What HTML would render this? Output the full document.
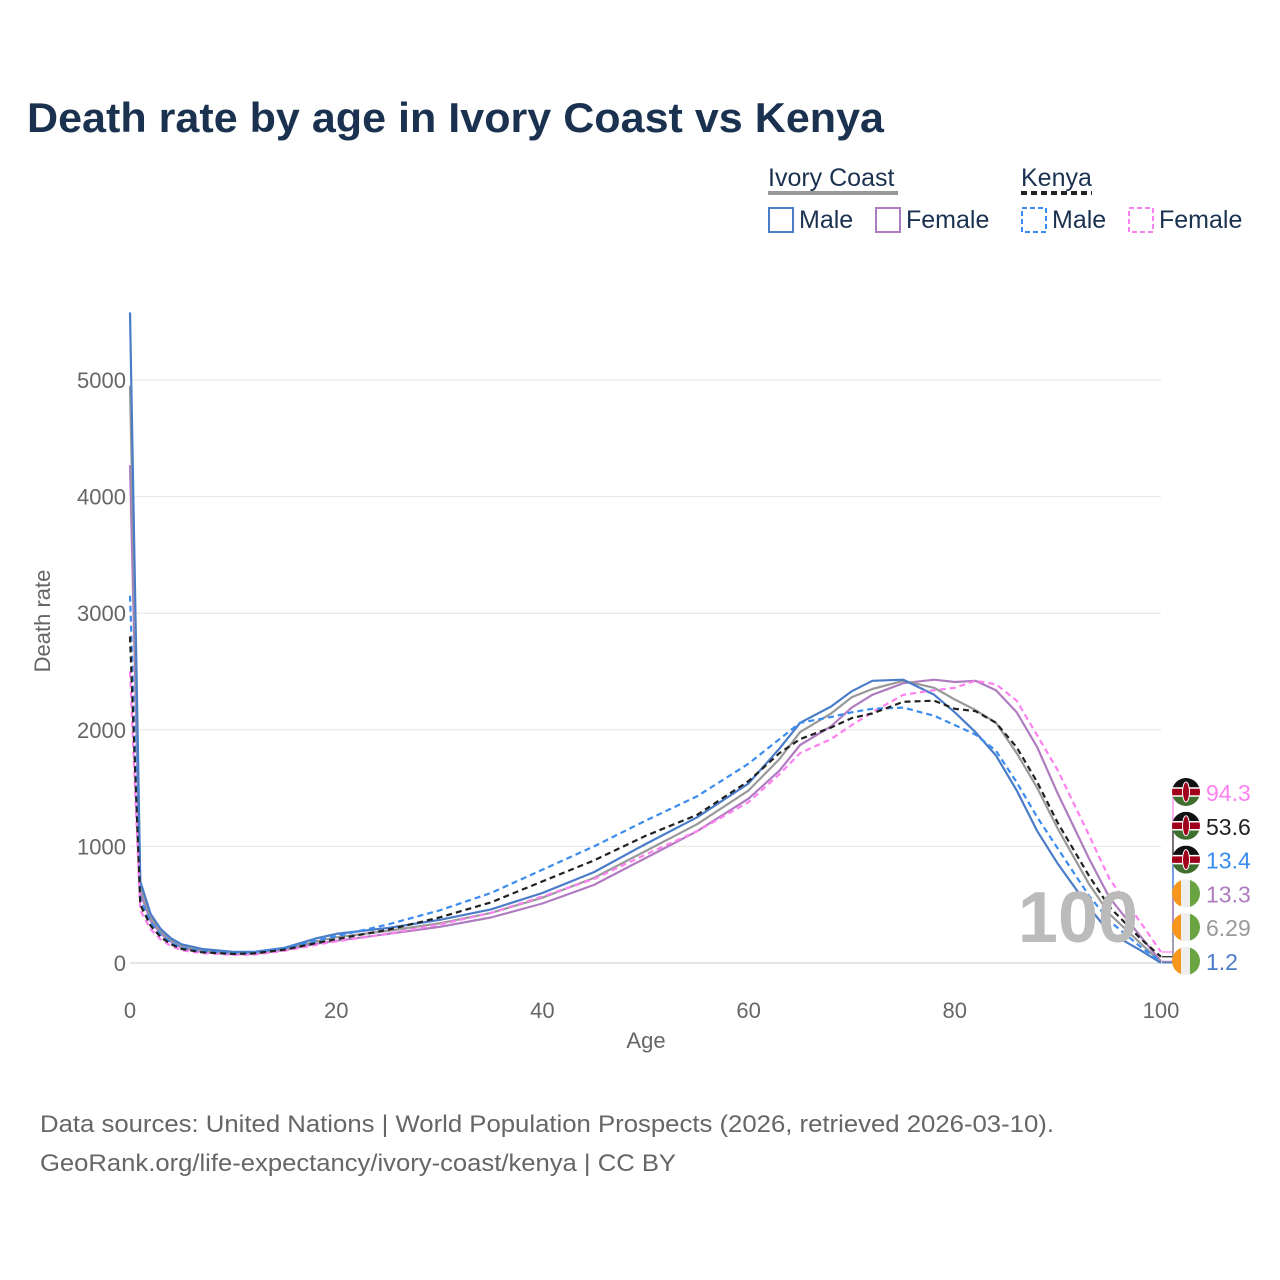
<!DOCTYPE html>
<html><head><meta charset="utf-8">
<style>
body{margin:0;background:#fff;font-family:"Liberation Sans",sans-serif;}
#wrap{position:relative;width:1280px;height:1280px;overflow:hidden;}
</style></head>
<body><div id="wrap">
<svg id="chart" width="1280" height="1280" font-family="Liberation Sans, sans-serif">
<text x="27" y="132" font-size="42" font-weight="bold" fill="#1b3150" textLength="857" lengthAdjust="spacingAndGlyphs">Death rate by age in Ivory Coast vs Kenya</text>
<g font-size="25" fill="#1b3150">
<text x="768" y="186">Ivory Coast</text>
<line x1="768" y1="193" x2="898" y2="193" stroke="#999" stroke-width="4"/>
<text x="1021" y="186">Kenya</text>
<line x1="1021" y1="193" x2="1092" y2="193" stroke="#222" stroke-width="4" stroke-dasharray="6,4"/>
<g><rect x="769" y="208" width="24" height="24" fill="none" stroke="#4a7cc8" stroke-width="2"/><text x="799" y="228">Male</text></g>
<g><rect x="876" y="208" width="24" height="24" fill="none" stroke="#b07cc0" stroke-width="2"/><text x="906" y="228">Female</text></g>
<g><rect x="1022" y="208" width="24" height="24" fill="none" stroke="#3b8cf0" stroke-width="2" stroke-dasharray="5,3"/><text x="1052" y="228">Male</text></g>
<g><rect x="1129" y="208" width="24" height="24" fill="none" stroke="#ff80f0" stroke-width="2" stroke-dasharray="5,3"/><text x="1159" y="228">Female</text></g>
</g>
<g id="grid"></g><g id="series"></g><g id="labels"></g>
<text x="1078" y="942" font-size="72" font-weight="bold" fill="#bbb" text-anchor="middle">100</text>
<text x="646" y="1048" font-size="22" fill="#666" text-anchor="middle">Age</text>
<text transform="translate(50,621) rotate(-90)" font-size="22" fill="#666" text-anchor="middle">Death rate</text>
<text x="40" y="1132" font-size="24" fill="#666" textLength="1014" lengthAdjust="spacingAndGlyphs">Data sources: United Nations | World Population Prospects (2026, retrieved 2026-03-10).</text>
<text x="40" y="1171" font-size="24" fill="#666" textLength="636" lengthAdjust="spacingAndGlyphs">GeoRank.org/life-expectancy/ivory-coast/kenya | CC BY</text>
</svg></div>
<script>
const ages=[0,1,2,3,4,5,7,10,12,15,18,20,25,30,35,40,45,50,55,60,63,65,68,70,72,75,78,80,82,84,86,88,90,93,95,98,100];
const icMale=[5580,700,420,290,210,160,120,95,95,130,210,250,300,370,460,600,780,1020,1250,1540,1840,2060,2200,2330,2420,2430,2300,2150,1980,1780,1480,1130,850,480,260,110,1.2];
const icFemale=[4270,600,360,250,180,130,95,75,78,110,165,190,250,310,390,510,670,900,1130,1410,1650,1870,2030,2190,2300,2400,2430,2410,2420,2340,2150,1850,1450,900,560,230,13.3];
const icBoth=[4950,650,390,270,195,145,108,85,85,120,185,220,275,340,430,560,730,960,1190,1480,1750,1980,2140,2280,2350,2420,2360,2260,2170,2060,1800,1500,1150,680,420,170,6.29];
const keMale=[3150,550,350,240,175,130,100,85,88,125,190,230,330,450,600,800,1000,1220,1430,1710,1920,2060,2110,2150,2180,2190,2120,2040,1960,1820,1550,1250,980,580,360,140,13.4];
const keBoth=[2800,500,320,220,160,120,92,78,82,115,170,205,285,390,520,700,880,1090,1270,1560,1800,1920,2020,2100,2140,2240,2250,2180,2160,2060,1850,1550,1200,750,480,210,53.6];
const keFemale=[2500,450,290,200,145,110,85,70,72,105,155,185,250,330,430,570,720,930,1130,1380,1620,1800,1920,2040,2150,2300,2340,2360,2420,2390,2250,1950,1650,1100,720,350,94.3];
const yTicks=[0,1000,2000,3000,4000,5000];
const xTicks=[0,20,40,60,80,100];
const NS="http://www.w3.org/2000/svg";
const X=a=>130+a*10.31, Y=v=>963-v*0.1166;
function mk(t,at,parent){const e=document.createElementNS(NS,t);for(const k in at)e.setAttribute(k,at[k]);parent.appendChild(e);return e;}
const grid=document.getElementById('grid');
yTicks.forEach(v=>{
 const l=mk('line',{x1:130,x2:1161,y1:Y(v),y2:Y(v),stroke:v?'#e6e6e6':'#ccc','stroke-width':1},grid);
 
 
 const t=mk('text',{x:126,y:Y(v)+8,'font-size':22,fill:'#666','text-anchor':'end'},grid);
 
 
 t.textContent=v;
});
xTicks.forEach(a=>{
 const t=mk('text',{x:X(a),y:1018,'font-size':22,fill:'#666','text-anchor':'middle'},grid);
 
 
 t.textContent=a;
});
const ser=[
 ['ic-female',icFemale,'#b07cc0',''],['ic-both',icBoth,'#999',''],['ic-male',icMale,'#4a7cc8',''],
 ['ke-female',keFemale,'#ff80f0','6,4'],['ke-male',keMale,'#3b8cf0','6,4'],['ke-both',keBoth,'#222','6,4']];
const sg=document.getElementById('series');
ser.forEach(s=>{
 const d=ages.map((a,i)=>(i?'L':'M')+X(a).toFixed(1)+','+Y(s[1][i]).toFixed(1)).join('');
 const p=mk('path',{d:d,fill:'none',stroke:s[2],'stroke-width':2.2,'stroke-dasharray':s[3],'stroke-linejoin':'round'},sg);
 
 
});
const lab=[['ke-female',94.3,'#ff80f0','ke'],['ke-both',53.6,'#222','ke'],['ke-male',13.4,'#3b8cf0','ke'],['ic-female',13.3,'#b07cc0','ic'],['ic-both',6.29,'#999','ic'],['ic-male',1.2,'#4a7cc8','ic']];
const lg=document.getElementById('labels');
lab.forEach((l,i)=>{
 const cy=792+i*33.8;
 mk('path',{d:`M1162,${Y(l[1])}L1173,${Y(l[1])}L1173,${cy}L1180,${cy}`,fill:'none',stroke:l[2],'stroke-width':1.2},lg);
 const g=mk('g',{},lg);
 
 
 const cp=mk('clipPath',{id:'c'+i},g);
 mk('circle',{cx:1186,cy:cy,r:14},cp);
 const f=mk('g',{'clip-path':`url(#c${i})`},g);
 if(l[3]==='ke'){
  mk('rect',{x:1172,y:cy-14,width:28,height:10,fill:'#111'},f);
  mk('rect',{x:1172,y:cy-4,width:28,height:8,fill:'#a0001a'},f);
  mk('rect',{x:1172,y:cy+4,width:28,height:10,fill:'#3f6e2f'},f);
  mk('line',{x1:1172,x2:1200,y1:cy-4,y2:cy-4,stroke:'#fff','stroke-width':1.5},f);
  mk('line',{x1:1172,x2:1200,y1:cy+4,y2:cy+4,stroke:'#fff','stroke-width':1.5},f);
  mk('ellipse',{cx:1186,cy:cy,rx:3.5,ry:10,fill:'#a0001a',stroke:'#fff','stroke-width':1},f);
 } else {
  mk('rect',{x:1172,y:cy-14,width:10,height:28,fill:'#f7961c'},f);
  mk('rect',{x:1181,y:cy-14,width:10,height:28,fill:'#eee'},f);
  mk('rect',{x:1190,y:cy-14,width:10,height:28,fill:'#6aa342'},f);
 }
 const t=mk('text',{x:1206,y:cy+9,'font-size':23,fill:l[2]},g);
 t.textContent=l[1];
});
</script>
</body></html>
